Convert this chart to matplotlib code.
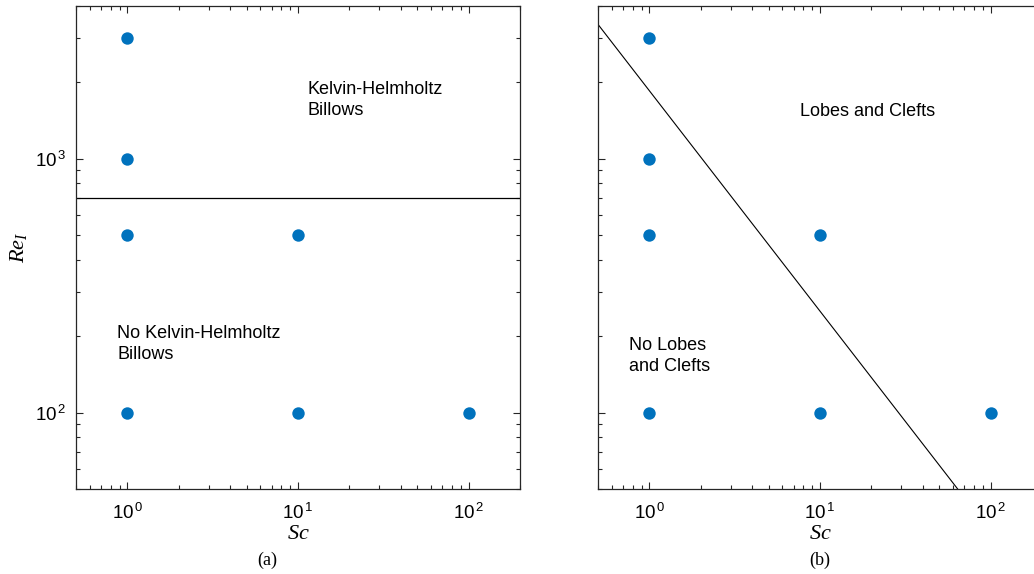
import numpy as np
import matplotlib
matplotlib.use("Agg")
import matplotlib.pyplot as plt
from matplotlib.ticker import LogLocator, NullFormatter

plt.rcParams['font.family'] = ['Liberation Sans', 'DejaVu Sans']
plt.rcParams['mathtext.fontset'] = 'custom'
plt.rcParams['mathtext.it'] = 'Liberation Serif:italic'
plt.rcParams['mathtext.rm'] = 'Liberation Serif'

# simulation points (Sc, Re_I)
sc_runs = [1, 1, 1, 10, 1, 10, 100]
re_runs = [3000, 1000, 500, 500, 100, 100, 100]

# regime boundaries
kh_re = 700                      # (a) critical Re_I for KH billows
lc_sc = [0.5, 64.1]               # (b) lobes/clefts boundary
lc_re = [3386, 50]

blue = '#0072BD'
xlim = (0.5, 200)
ylim = (50, 4000)

fig = plt.figure(figsize=(10.34, 5.74), dpi=100)
ax_a = fig.add_axes([76/1034, 85/574, 444/1034, 483/574])
ax_b = fig.add_axes([598/1034, 85/574, 444/1034, 483/574])


def style(ax):
    ax.set_xscale('log')
    ax.set_yscale('log')
    ax.set_xlim(*xlim)
    ax.set_ylim(*ylim)
    ax.tick_params(which='both', direction='in', top=True, right=True,
                   colors='#262626', labelcolor='black', width=0.8)
    ax.tick_params(which='major', length=5, labelsize=13.5, pad=7)
    ax.tick_params(axis='x', which='major', pad=10)
    ax.tick_params(which='minor', length=3)
    ax.xaxis.set_minor_locator(LogLocator(base=10, subs=np.arange(2, 10)))
    ax.yaxis.set_minor_locator(LogLocator(base=10, subs=np.arange(2, 10)))
    ax.xaxis.set_minor_formatter(NullFormatter())
    ax.yaxis.set_minor_formatter(NullFormatter())
    ax.set_xticks([1, 10, 100])
    ax.set_xticklabels([r'$\mathregular{10^{\,0}}$', r'$\mathregular{10^{\,1}}$',
                        r'$\mathregular{10^{\,2}}$'])
    ax.set_yticks([100, 1000])
    for s in ax.spines.values():
        s.set_color('#262626')
        s.set_linewidth(0.9)
    ax.scatter(sc_runs, re_runs, s=80, color=blue, zorder=3, linewidths=0)
    ax.set_xlabel('$Sc$', fontsize=16, labelpad=0)


style(ax_a)
ax_a.set_yticklabels([r'$\mathregular{10^{\,2}}$', r'$\mathregular{10^{\,3}}$'])
ax_a.set_ylabel('$Re_I$', fontsize=16, labelpad=4)
ax_a.plot(xlim, [kh_re, kh_re], color='black', lw=0.9)
ax_a.text(11.3, 1702, 'Kelvin-Helmholtz\nBillows', fontsize=13,
          ha='left', va='center', linespacing=1.3)
ax_a.text(0.874, 186.6, 'No Kelvin-Helmholtz\nBillows', fontsize=13,
          ha='left', va='center', linespacing=1.3)

style(ax_b)
ax_b.set_yticklabels([])
ax_b.plot(lc_sc, lc_re, color='black', lw=0.8)
ax_b.text(7.64, 1535, 'Lobes and Clefts', fontsize=13,
          ha='left', va='center')
ax_b.text(0.764, 167, 'No Lobes\nand Clefts', fontsize=13,
          ha='left', va='center', linespacing=1.3)

fig.text(267/1034, 1 - 560/574, '(a)', fontsize=13, family='Liberation Serif',
         ha='center', va='center')
fig.text(820/1034, 1 - 560/574, '(b)', fontsize=13, family='Liberation Serif',
         ha='center', va='center')

fig.savefig('out.png', dpi=100)
